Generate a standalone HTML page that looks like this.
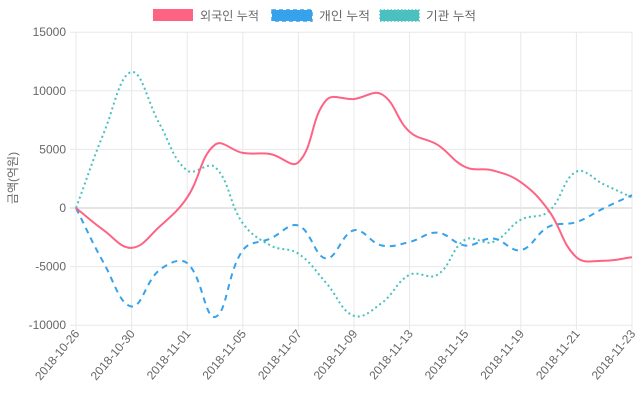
<!DOCTYPE html>
<html><head><meta charset="utf-8"><style>
html,body{margin:0;padding:0;background:#fff;}
svg{display:block;font-family:"Liberation Sans","Noto Sans CJK KR",sans-serif;}
</style></head><body>
<svg id="c" width="640" height="400" viewBox="0 0 640 400" xmlns="http://www.w3.org/2000/svg">
<g id="grid"></g>
<g font-size="12" fill="#666">
<rect x="153" y="9" width="40" height="12" fill="#ff6384"/>
<text x="200" y="20" textLength="59" lengthAdjust="spacingAndGlyphs">외국인 누적</text>
<rect x="272" y="10" width="40" height="11" fill="#36a2eb" stroke="#36a2eb" stroke-width="1.5" stroke-dasharray="4,3"/>
<text x="319" y="20" textLength="51" lengthAdjust="spacingAndGlyphs">개인 누적</text>
<rect x="380" y="10" width="39" height="11" fill="#4bc0c0" stroke="#4bc0c0" stroke-width="1.5" stroke-dasharray="1.5,2"/>
<text x="426" y="20" textLength="50" lengthAdjust="spacingAndGlyphs">기관 누적</text>
<text transform="translate(17,178) rotate(-90)" text-anchor="middle">금액(억원)</text>
</g>
<g id="lines"></g>
</svg>
<script>
var X0=76,DX=27.8,Y0=208,S=58.6/5000;
function px(i){return X0+DX*i;}function py(v){return Y0-v*S;}
var ns="http://www.w3.org/2000/svg";
var g=document.getElementById('grid');
function el(t,a,p,txt){var e=document.createElementNS(ns,t);for(var k in a)e.setAttribute(k,a[k]);if(txt!=null)e.textContent=txt;p.appendChild(e);return e;}
for(var v=-10000;v<=15000;v+=5000){var y=py(v);el('line',{x1:70,x2:632,y1:y,y2:y,stroke:v==0?'#ccc':'#e8e8e8','stroke-width':1},g);
el('text',{x:66,y:y+4,'text-anchor':'end','font-size':12,fill:'#666'},g,String(v));}
var labs=['2018-10-26','2018-10-30','2018-11-01','2018-11-05','2018-11-07','2018-11-09','2018-11-13','2018-11-15','2018-11-19','2018-11-21','2018-11-23'];
for(var j=0;j<11;j++){var x=px(2*j);el('line',{x1:x,x2:x,y1:32,y2:330,stroke:'#e8e8e8','stroke-width':1},g);
el('text',{transform:'translate('+(x+4)+',334) rotate(-50)','text-anchor':'end','font-size':12,fill:'#666'},g,labs[j]);}
var F=[0,-1900,-3400,-1600,900,5400,4700,4600,3900,9200,9300,9700,6500,5400,3500,3200,2200,-200,-4200,-4500,-4200];
var P=[0,-4700,-8400,-5300,-4700,-9300,-3600,-2600,-1500,-4300,-1900,-3200,-2900,-2100,-3200,-2600,-3600,-1600,-1200,0,1100];
var I=[0,6400,11600,7200,3200,3500,-1300,-3200,-3900,-6400,-9200,-8100,-5700,-5700,-2700,-2900,-1000,-300,3100,2000,900];
function path(d){var pts=d.map(function(v,i){return [px(i),py(v)];});var t=0.4,s='M'+pts[0][0]+','+pts[0][1];
var cp=[];for(var i=0;i<pts.length;i++){var p=pts[i-1]||pts[i],c=pts[i],n=pts[i+1]||pts[i];
var d01=Math.hypot(c[0]-p[0],c[1]-p[1]),d12=Math.hypot(n[0]-c[0],n[1]-c[1]);var fa=d01/(d01+d12)||0,fb=d12/(d01+d12)||0;fa*=t;fb*=t;
cp.push({p:[c[0]-fa*(n[0]-p[0]),c[1]-fa*(n[1]-p[1])],n:[c[0]+fb*(n[0]-p[0]),c[1]+fb*(n[1]-p[1])]});}
for(var i=1;i<pts.length;i++){s+=' C'+cp[i-1].n+' '+cp[i].p+' '+pts[i];}return s;}
var L=document.getElementById('lines');
el('path',{d:path(I),fill:'none',stroke:'#4bc0c0','stroke-width':2,'stroke-dasharray':'2,3'},L);
el('path',{d:path(P),fill:'none',stroke:'#36a2eb','stroke-width':2,'stroke-dasharray':'6,5'},L);
el('path',{d:path(F),fill:'none',stroke:'#ff6384','stroke-width':2},L);
</script>
</body></html>
